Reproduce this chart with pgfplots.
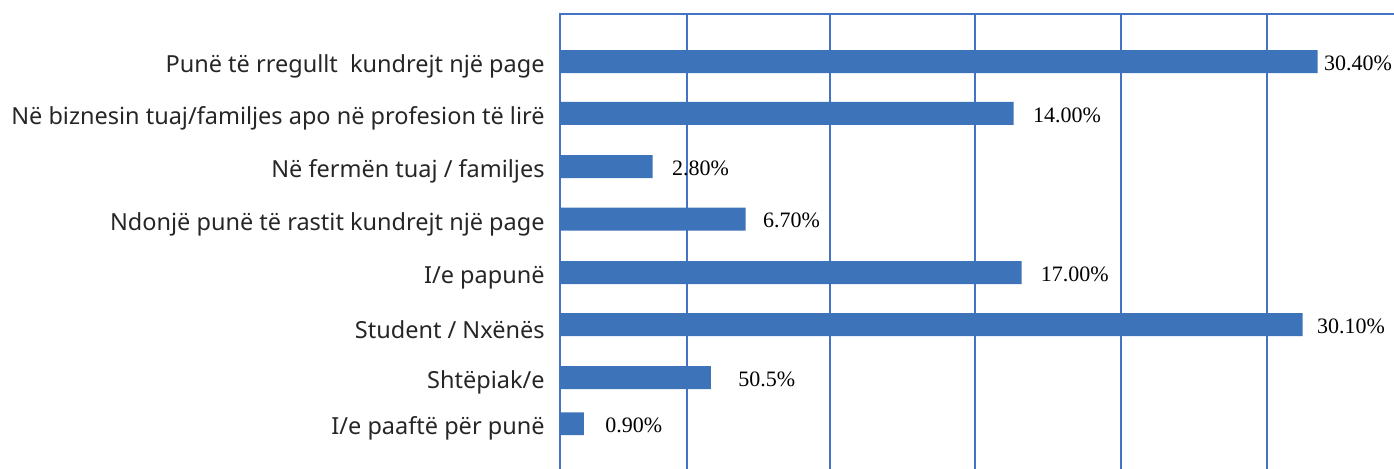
\documentclass[border=0pt]{standalone}
\usepackage{fontspec}
\setmainfont{Noto Sans}
\newfontfamily\seriffont{Liberation Serif}
\usepackage{pgfplots}
\pgfplotsset{compat=1.18}
\usepackage{pgfplotstable}
\definecolor{barblue}{RGB}{61,115,185}
\definecolor{gridblue}{RGB}{68,114,196}
\definecolor{labgray}{RGB}{38,38,38}

\pgfplotstableread{
pos   val    lab    dx
0     30.43  30.40  3
0.99  18.22  14.00  9.5
2     3.72   2.80   9.5
3     7.46   6.70   8.5
4.02  18.54  17.00  9.5
5.01  29.83  30.10  7
6.02  6.06   50.5   13.5
6.90  0.96   0.90   10.5
}\datatable

\begin{document}
\begin{tikzpicture}[x=1pt,y=1pt]
\begin{axis}[
  at={(280pt,-10pt)}, anchor=south west,
  scale only axis, width=425pt, height=237pt,
  xbar, bar width=0.438, bar shift=0pt,
  xmin=0, xmax=34.14, ymin=-0.9048, ymax=8.124, y dir=reverse,
  axis line style={gridblue, line width=1.3pt},
  xtick={5.10,10.84,16.67,22.53,28.39}, xticklabels={},
  xmajorgrids, major grid style={gridblue, line width=1.3pt},
  major tick length=0pt,
  ytick={0,0.99,2,3,4.02,5.01,6.02,6.9},
  yticklabels={Punë të rregullt\ \ kundrejt një page,
    Në biznesin tuaj/familjes apo në profesion të lirë,
    Në fermën tuaj / familjes,
    Ndonjë punë të rastit kundrejt një page,
    I/e papunë,
    Student / Nxënës,
    Shtëpiak/e,
    I/e paaftë për punë},
  yticklabel style={anchor=east, inner sep=0pt, xshift=-7.5pt, yshift=-2.5pt,
    font=\fontsize{11.75}{13}\selectfont, text=labgray},
  nodes near coords={\pgfplotspointmeta\%},
  point meta=explicit symbolic,
  visualization depends on={\thisrow{dx} \as \dx},
  nodes near coords style={anchor=west, inner sep=0pt, xshift=\dx pt, yshift=-0.7pt,
    font=\seriffont\fontsize{11}{12}\selectfont, text=black},
]
\addplot[draw=none, fill=barblue] table[x=val, y=pos, meta=lab] {\datatable};
\end{axis}
\pgfresetboundingbox
\useasboundingbox (0,0) rectangle (697,234);
\end{tikzpicture}
\end{document}
